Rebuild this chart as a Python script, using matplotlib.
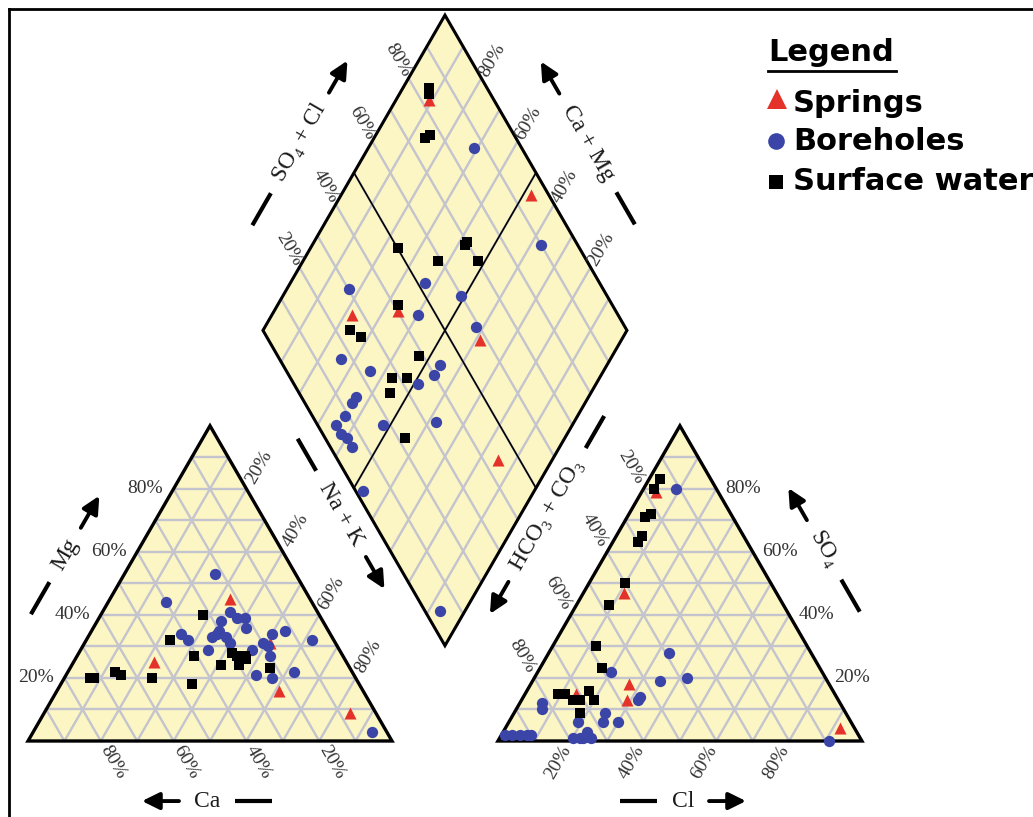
import numpy as np
import matplotlib
matplotlib.use('Agg')
import matplotlib.pyplot as plt
from matplotlib.patches import Polygon

# --- data (% of meq/l) ---
# cation triangle: Ca and Mg (Na + K is the remainder)
spr_ca = [22, 18, 53, 23, 7]
spr_mg = [45, 31, 25, 16, 9]
bh_ca = [22, 40, 24, 23, 21, 22, 28, 30, 41, 40, 33, 36, 31, 29, 29, 24, 20, 16, 19, 12, 6, 20, 27, 23, 16, 4]
bh_mg = [53, 44, 41, 39, 39, 36, 38, 35, 34, 32, 33, 29, 34, 33, 31, 29, 31, 34, 30, 35, 32, 27, 21, 20, 22, 3]
sw_ca = [32, 45, 41, 73, 72, 65, 64, 56, 46, 35, 30, 29, 27, 30, 27, 22]
sw_mg = [40, 32, 27, 20, 20, 22, 21, 20, 18, 24, 28, 27, 27, 24, 26, 23]

# anion triangle: Cl and SO4 (HCO3 + CO3 is the remainder)
spr_cl = [4, 11, 27, 29, 92, 14]
spr_so4 = [79, 47, 18, 13, 4, 15]
bh_cl = [9, 33, 35, 42, 20, 32, 32, 25, 26, 30, 19, 6, 7, 1, 3, 5, 7, 8, 20, 22, 23, 25, 23, 91]
bh_so4 = [80, 28, 19, 20, 22, 14, 13, 9, 6, 6, 6, 12, 10, 2, 2, 2, 2, 2, 1, 1, 1, 1, 3, 0]
sw_cl = [3, 3, 6, 5, 7, 7, 10, 9, 12, 17, 9, 11, 14, 16, 17, 20, 18]
sw_so4 = [83, 80, 72, 71, 65, 63, 50, 43, 30, 23, 15, 15, 13, 13, 16, 13, 9]

# diamond: SO4 + Cl and Ca + Mg
spr_so4cl = [82, 40, 95, 27, 58, 44]
spr_camg = [91, 66, 48, 78, 39, 15]
bh_so4cl = [87, 90, 30, 52, 60, 45, 59, 17, 23, 15, 13, 9, 5, 5, 6, 6, 18, 43, 40, 34, 33, 2, 4]
bh_camg = [71, 37, 83, 63, 51, 60, 42, 74, 64, 64, 64, 64, 65, 62, 60, 57, 52, 46, 46, 49, 38, 47, 7]
sw_so4cl = [84, 83, 75, 77, 50, 59, 70, 69, 70, 41, 24, 26, 39, 28, 32, 32, 25, 22]
sw_camg = [93, 92, 86, 85, 76, 63, 58, 58, 52, 67, 76, 72, 53, 57, 53, 53, 55, 44]

ticks = [20, 40, 60, 80]

# --- geometry (triangle side = 1) ---
H = np.sqrt(3) / 2
GAP = 0.291
LIFT = 0.262
X_AN = 1 + GAP
X_DIA = 1 + GAP / 2

FILL = '#FCF5C4'
GRID = '#C3C4CD'
SERIF = ['Liberation Serif', 'DejaVu Serif']


def cation_xy(ca, mg):
    ca = np.asarray(ca, float) / 100
    mg = np.asarray(mg, float) / 100
    na = 1 - ca - mg
    return na + 0.5 * mg, H * mg


def anion_xy(cl, so4):
    cl = np.asarray(cl, float) / 100
    so4 = np.asarray(so4, float) / 100
    return X_AN + cl + 0.5 * so4, H * so4


def diamond_xy(a, b):
    a = np.asarray(a, float) / 100
    b = np.asarray(b, float) / 100
    return X_DIA + 0.5 * (a - b), LIFT + H * (a + b)


fig = plt.figure(figsize=(10.33, 8.17), dpi=100)
ax = fig.add_axes([0, 0, 1, 1])
xlim = (-28 / 364, (1033 - 28) / 364)
ylim = ((741 - 817) / 364, 741 / 364)
ax.set_xlim(*xlim)
ax.set_ylim(*ylim)
ax.axis('off')
PX = 1033 / (xlim[1] - xlim[0])   # pixels per data unit


def draw_triangle(verts):
    A = np.array(verts)
    ax.add_patch(Polygon(A, closed=True, facecolor=FILL, edgecolor='none', zorder=1))
    for i in range(3):
        V, P, Q = A[i], A[(i + 1) % 3], A[(i + 2) % 3]
        for k in range(1, 10):
            f = k / 10
            p1, p2 = V + f * (P - V), V + f * (Q - V)
            ax.plot([p1[0], p2[0]], [p1[1], p2[1]], color=GRID, lw=1.7, zorder=2)
    ax.add_patch(Polygon(A, closed=True, facecolor='none', edgecolor='black',
                         lw=2.4, joinstyle='miter', zorder=4))


cat_v = np.column_stack(cation_xy([100, 0, 0], [0, 0, 100]))
an_v = np.column_stack(anion_xy([0, 100, 0], [0, 0, 100]))
dia_v = np.column_stack(diamond_xy([0, 100, 100, 0], [0, 0, 100, 100]))
draw_triangle(cat_v)
draw_triangle(an_v)

# diamond
ax.add_patch(Polygon(dia_v, closed=True, facecolor=FILL, edgecolor='none', zorder=1))
for k in range(1, 10):
    v = k * 10
    x1, y1 = diamond_xy([v, v], [0, 100])
    ax.plot(x1, y1, color=GRID, lw=1.7, zorder=2)
    x2, y2 = diamond_xy([0, 100], [v, v])
    ax.plot(x2, y2, color=GRID, lw=1.7, zorder=2)
x1, y1 = diamond_xy([50, 50], [0, 100])
ax.plot(x1, y1, color='black', lw=1.2, zorder=3)
x2, y2 = diamond_xy([0, 100], [50, 50])
ax.plot(x2, y2, color='black', lw=1.2, zorder=3)
ax.add_patch(Polygon(dia_v, closed=True, facecolor='none', edgecolor='black',
                     lw=2.2, joinstyle='miter', zorder=4))

# --- samples ---
RED, BLUE = '#E4322B', '#3B45A8'
for fn, s_x, s_y, b_x, b_y, w_x, w_y in [
        (cation_xy, spr_ca, spr_mg, bh_ca, bh_mg, sw_ca, sw_mg),
        (anion_xy, spr_cl, spr_so4, bh_cl, bh_so4, sw_cl, sw_so4),
        (diamond_xy, spr_so4cl, spr_camg, bh_so4cl, bh_camg, sw_so4cl, sw_camg)]:
    ax.scatter(*fn(s_x, s_y), marker='^', s=75, color=RED, linewidths=0, zorder=5)
    ax.scatter(*fn(b_x, b_y), marker='o', s=66, color=BLUE, linewidths=0, zorder=6)
    ax.scatter(*fn(w_x, w_y), marker='s', s=55, color='black', linewidths=0, zorder=7)

# --- percentage labels ---
pct_kw = dict(fontsize=14, family=SERIF, color='#333333', zorder=8)


def rot_label(x, y, angle, rot, text, dist):
    d = np.radians(angle)
    ax.text(x + dist * np.cos(d), y + dist * np.sin(d), text, rotation=rot,
            ha='center', va='center', rotation_mode='anchor', **pct_kw)


for v in ticks:
    t = f'{v}%'
    x, y = cation_xy(100 - v, v)
    ax.text(x - 0.03, y, t, ha='right', va='center', **pct_kw)
    x, y = cation_xy(0, 100 - v)
    rot_label(x, y, 60, 60, t, 0.068)
    x, y = cation_xy(v, 0)
    rot_label(x, y, -60, -60, t, 0.068)
    x, y = anion_xy(0, 100 - v)
    rot_label(x, y, 120, -60, t, 0.068)
    x, y = anion_xy(100 - v, v)
    ax.text(x + 0.025, y, t, ha='left', va='center', **pct_kw)
    x, y = anion_xy(v, 0)
    rot_label(x, y, 240, 60, t, 0.068)
    x, y = diamond_xy(v, 100)
    rot_label(x, y, 120, -60, t, 0.058)
    x, y = diamond_xy(100, v)
    rot_label(x, y, 60, 60, t, 0.058)

# --- axis names with dash and arrow ---
renderer = fig.canvas.get_renderer()
name_kw = dict(fontsize=17, family=SERIF, color='#1a1a1a')


def axis_name(cx, cy, angle, text, arrow_forward):
    tmp = ax.text(0, 0, text, **name_kw)
    half = tmp.get_window_extent(renderer).width / 2 / PX
    tmp.remove()
    ax.text(cx, cy, text, rotation=angle, ha='center', va='center',
            rotation_mode='anchor', **name_kw)
    d = np.array([np.cos(np.radians(angle)), np.sin(np.radians(angle))])
    c = np.array([cx, cy])
    inner = half + 15 / PX
    outer = inner + 37 / PX
    sgn = 1 if arrow_forward else -1
    tail, tip = c + sgn * inner * d, c + sgn * outer * d
    ax.annotate('', xy=tip, xytext=tail,
                arrowprops=dict(arrowstyle='-|>,head_length=0.65,head_width=0.32',
                                lw=2.8, color='black', shrinkA=0, shrinkB=0,
                                mutation_scale=16))
    p1, p2 = c - sgn * inner * d, c - sgn * outer * d
    ax.plot([p1[0], p2[0]], [p1[1], p2[1]], color='black', lw=3,
            solid_capstyle='butt')


axis_name(0.102, 0.511, 60, 'Mg', True)
axis_name(0.492, -0.165, 0, 'Ca', False)
axis_name(0.860, 0.624, -60, 'Na + K', True)
axis_name(1.426, 0.621, 60, 'HCO\u2083 + CO\u2083', False)
axis_name(2.187, 0.525, -60, 'SO\u2084', False)
axis_name(1.799, -0.165, 0, 'Cl', True)
axis_name(0.747, 1.643, 60, 'SO\u2084 + Cl', True)
axis_name(1.538, 1.643, -60, 'Ca + Mg', False)


# --- legend, drawn by hand ---
def fpos(px, py):
    return px / 1033, 1 - py / 817


leg_kw = dict(fontsize=22, family='DejaVu Sans', fontweight='bold',
              transform=ax.transAxes, va='baseline', ha='left')
ax.text(*fpos(768, 61), 'Legend', **leg_kw)
ax.plot([768 / 1033, 896 / 1033], [1 - 71 / 817] * 2, color='black', lw=2,
        transform=ax.transAxes)
ax.plot(*fpos(777, 99), marker='^', ms=15, color=RED, mew=0, transform=ax.transAxes)
ax.text(*fpos(793, 112), 'Springs', **leg_kw)
ax.plot(*fpos(776, 141), marker='o', ms=12, color=BLUE, mew=0, transform=ax.transAxes)
ax.text(*fpos(793, 150), 'Boreholes', **leg_kw)
ax.plot(*fpos(776, 182), marker='s', ms=9.5, color='black', mew=0, transform=ax.transAxes)
ax.text(*fpos(793, 190), 'Surface water', **leg_kw)

# frame lines (left and top)
ax.plot([9 / 1033, 9 / 1033], [0, 1 - 9 / 817], color='black', lw=2,
        transform=ax.transAxes, clip_on=False)
ax.plot([9 / 1033, 1], [1 - 9 / 817, 1 - 9 / 817], color='black', lw=2,
        transform=ax.transAxes, clip_on=False)

fig.savefig('out.png', dpi=100, facecolor='white')
